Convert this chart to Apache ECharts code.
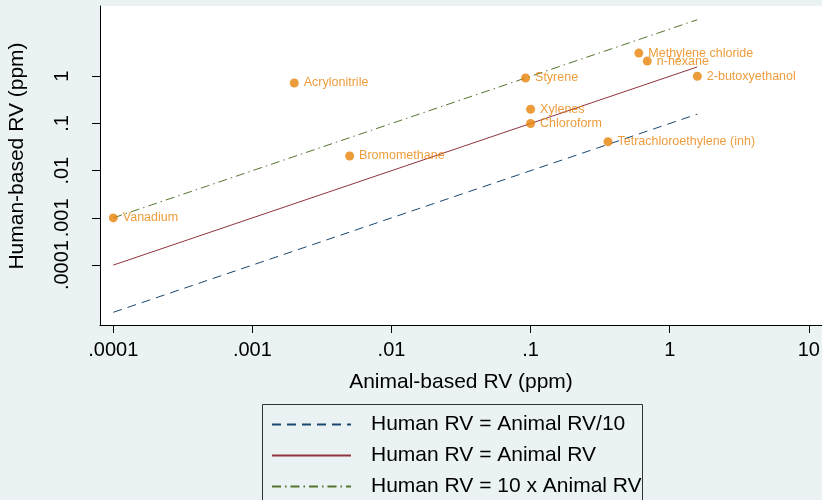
<!DOCTYPE html>
<html>
<head>
<meta charset="utf-8">
<script src="https://cdn.jsdelivr.net/npm/echarts@6/dist/echarts.min.js"></script>
<style>
html,body{margin:0;padding:0;background:#eaf2f3;}
#chart{width:822px;height:500px;}
</style>
</head>
<body>
<div id="chart"></div>
<script>
// ---- data ----
const chemicals = ['Vanadium','Acrylonitrile','Bromomethane','Styrene','Xylenes','Chloroform','Tetrachloroethylene (inh)','Methylene chloride','n-hexane','2-butoxyethanol'];
const animalRV = [0.0001, 0.002, 0.005, 0.092, 0.1, 0.1, 0.36, 0.6, 0.69, 1.58];
const humanRV  = [0.001, 0.72, 0.0205, 0.92, 0.2, 0.1, 0.041, 3.1, 2.1, 1.0];

const refLineAnimal   = [0.0001, 1.58];
const refHumanDiv10   = [0.00001, 0.158];
const refHumanEqual   = [0.0001, 1.58];
const refHumanTimes10 = [0.001, 15.8];

const refNames = ['Human RV = Animal RV/10', 'Human RV = Animal RV', 'Human RV = 10 x Animal RV'];

const xTicks = [0.0001, 0.001, 0.01, 0.1, 1, 10];
const xTickLabels = ['.0001', '.001', '.01', '.1', '1', '10'];
const yTicks = [0.0001, 0.001, 0.01, 0.1, 1];
const yTickLabels = ['.0001', '.001', '.01', '.1', '1'];

// ---- helpers ----
const lg = v => Math.log10(v);
const fmt = (ticks, labels) => v => {
  const i = ticks.findIndex(t => Math.abs(lg(t) - v) < 1e-6);
  return i >= 0 ? labels[i] : '';
};
const pairs = (xs, ys) => xs.map((x, i) => [lg(x), lg(ys[i])]);

const FONT = 'Liberation Sans, Arial, sans-serif';
const ORANGE = '#e8830a';

const chart = echarts.init(document.getElementById('chart'), null, {renderer: 'canvas'});
chart.setOption({
  animation: false,
  backgroundColor: '#eaf2f3',
  textStyle: {fontFamily: FONT},
  grid: {left: 100, right: 0, top: 6, bottom: 175, show: true, backgroundColor: '#ffffff', borderWidth: 0, outerBoundsMode: 'none', containLabel: false},
  xAxis: {
    type: 'value', min: -4.0956, max: 1.095,
    name: 'Animal-based RV (ppm)', nameLocation: 'middle', nameGap: 47,
    nameTextStyle: {fontSize: 21, color: '#000', fontFamily: FONT},
    axisLine: {show: true, onZero: false, lineStyle: {color: '#000', width: 1}},
    axisTick: {show: true, length: 8, inside: false, lineStyle: {color: '#000'}, customValues: xTicks.map(lg)},
    axisLabel: {fontSize: 20, color: '#000', margin: 15, fontFamily: FONT, customValues: xTicks.map(lg), formatter: fmt(xTicks, xTickLabels)},
    splitLine: {show: false}
  },
  yAxis: {
    type: 'value', min: -5.269, max: 1.489,
    name: 'Human-based RV (ppm)', nameLocation: 'middle', nameGap: 72,
    nameTextStyle: {fontSize: 21, color: '#000', fontFamily: FONT, padding: [0, 0, 0, 19]},
    axisLine: {show: true, onZero: false, lineStyle: {color: '#000', width: 1}},
    axisTick: {show: true, length: 8, inside: false, lineStyle: {color: '#000'}, customValues: yTicks.map(lg)},
    axisLabel: {fontSize: 20, color: '#000', margin: 28, rotate: 90, fontFamily: FONT, customValues: yTicks.map(lg), formatter: fmt(yTicks, yTickLabels)},
    splitLine: {show: false}
  },
  legend: {
    data: refNames, orient: 'vertical', left: 271, top: 414, padding: 0,
    itemWidth: 79, itemHeight: 20, itemGap: 10,
    itemStyle: {opacity: 0, color: 'transparent', borderWidth: 0},
    textStyle: {fontSize: 21, color: '#000', fontFamily: FONT, lineHeight: 20, padding: [0, 0, 0, 15]},
    selectedMode: false, backgroundColor: 'transparent', borderWidth: 0
  },
  graphic: [{
    type: 'rect', left: 262, top: 404, z: -1,
    shape: {width: 380, height: 110},
    style: {fill: '#eaf2f3', stroke: '#333', lineWidth: 1}
  }],
  series: [
    {
      name: refNames[0], type: 'line', data: pairs(refLineAnimal, refHumanDiv10),
      symbol: 'none', silent: true,
      lineStyle: {color: '#1a476f', width: 1, type: [9, 6]},
      itemStyle: {color: '#1a476f'}
    },
    {
      name: refNames[1], type: 'line', data: pairs(refLineAnimal, refHumanEqual),
      symbol: 'none', silent: true,
      lineStyle: {color: '#90353b', width: 1, type: 'solid'},
      itemStyle: {color: '#90353b'}
    },
    {
      name: refNames[2], type: 'line', data: pairs(refLineAnimal, refHumanTimes10),
      symbol: 'none', silent: true,
      lineStyle: {color: '#55752f', width: 1, type: [9, 4, 1.5, 4]},
      itemStyle: {color: '#55752f'}
    },
    {
      name: 'chemicals', type: 'scatter', symbol: 'circle', symbolSize: 9, z: 5,
      data: chemicals.map((c, i) => ({name: c, value: [lg(animalRV[i]), lg(humanRV[i])]})),
      itemStyle: {color: ORANGE},
      label: {show: true, position: 'right', distance: 5, formatter: p => p.name, color: ORANGE, fontSize: 12.5, fontFamily: FONT},
      labelLayout: {hideOverlap: false},
      silent: true
    }
  ]
});
</script>
</body>
</html>
